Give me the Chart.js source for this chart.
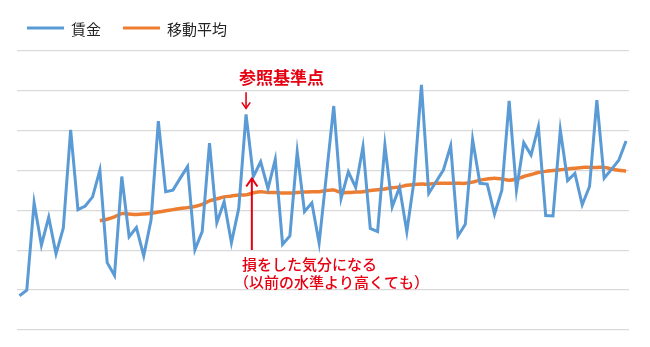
<!DOCTYPE html>
<html>
<head>
<meta charset="utf-8">
<script src="https://cdn.jsdelivr.net/npm/chart.js@4"></script>
<style>
  html, body { margin: 0; padding: 0; background: #fff; }
  canvas { display: block; }
</style>
</head>
<body>
<canvas id="wageChart" width="650" height="347"></canvas>
<script>
// wage series (84 periods)
const wages = [
  0.86, 1.00, 3.19, 2.13, 2.83, 1.91, 2.56, 5.02, 3.02, 3.11,
  3.34, 4.01, 1.69, 1.37, 3.85, 2.34, 2.57, 1.86, 2.76, 5.24,
  3.47, 3.51, 3.81, 4.10, 2.01, 2.47, 4.69, 2.69, 3.22, 2.19,
  3.05, 5.41, 3.85, 4.22, 3.55, 4.28, 2.15, 2.36, 4.47, 2.97,
  3.19, 2.18, 3.89, 5.62, 3.30, 3.97, 3.58, 4.60, 2.55, 2.47,
  4.64, 3.09, 3.58, 2.47, 3.76, 6.15, 3.43, 3.72, 4.01, 4.62,
  2.36, 2.65, 4.78, 3.68, 3.66, 2.91, 3.51, 5.75, 3.51, 4.70,
  4.39, 5.10, 2.87, 2.86, 5.02, 3.75, 3.93, 3.14, 3.60, 5.77,
  3.81, 4.03, 4.26, 4.74
];

// moving average, starts at the 12th period
const movingAvg = [
  null, null, null, null, null, null, null, null, null, null, null,
  2.74, 2.78, 2.84, 2.92, 2.91, 2.90, 2.91, 2.93, 2.96, 2.99,
  3.02, 3.05, 3.07, 3.10, 3.15, 3.24, 3.29, 3.34, 3.36, 3.39,
  3.39, 3.44, 3.47, 3.45, 3.45, 3.44, 3.44, 3.45, 3.46, 3.47,
  3.47, 3.50, 3.51, 3.45, 3.45, 3.46, 3.47, 3.50, 3.52, 3.54,
  3.57, 3.59, 3.63, 3.65, 3.66, 3.66, 3.68, 3.68, 3.68, 3.68,
  3.68, 3.71, 3.76, 3.79, 3.81, 3.79, 3.76, 3.79, 3.85, 3.90,
  3.95, 3.98, 4.00, 4.02, 4.04, 4.06, 4.08, 4.08, 4.08, 4.08,
  4.04, 4.01, 3.99
];

const seriesNames = ["賃金", "移動平均"];
const seriesColors = ["#5b9bd5", "#ed7d31"];

const refIndex = 31;   // 参照基準点
const lossIndex = 32;  // 損をした気分になる

const FONT = '"Noto Sans CJK JP", "Noto Sans", sans-serif';
const RED = "#e60012";

const toPoints = arr => arr.map((v, i) => ({ x: i, y: v }));

// legend drawn by hand so the line swatches sit where they do in the original
const lineLegend = {
  id: "lineLegend",
  afterDraw(chart) {
    const ctx = chart.ctx;
    const items = [{ x: 27 }, { x: 123 }];
    ctx.save();
    ctx.font = "15px " + FONT;
    ctx.textBaseline = "middle";
    chart.data.datasets.forEach((ds, i) => {
      const x = items[i].x;
      ctx.strokeStyle = ds.borderColor;
      ctx.lineWidth = 3;
      ctx.beginPath();
      ctx.moveTo(x, 28);
      ctx.lineTo(x + 37, 28);
      ctx.stroke();
      ctx.fillStyle = "#222";
      ctx.fillText(ds.label, x + 44, 29);
    });
    ctx.restore();
  }
};

function arrow(ctx, x, y1, y2, head) {
  ctx.beginPath();
  ctx.moveTo(x, y1);
  ctx.lineTo(x, y2);
  ctx.stroke();
  const dir = y2 > y1 ? 1 : -1;
  ctx.beginPath();
  ctx.moveTo(x - head * 0.7, y2 - dir * head);
  ctx.lineTo(x, y2);
  ctx.lineTo(x + head * 0.7, y2 - dir * head);
  ctx.stroke();
}

const notes = {
  id: "notes",
  afterDraw(chart) {
    const ctx = chart.ctx;
    const xs = chart.scales.x, ys = chart.scales.y;
    ctx.save();
    ctx.strokeStyle = RED;
    ctx.fillStyle = RED;
    ctx.lineWidth = 1.6;

    // reference point
    const rx = xs.getPixelForValue(refIndex);
    const ry = ys.getPixelForValue(wages[refIndex]);
    arrow(ctx, rx, ry - 22, ry - 6, 6);
    ctx.font = "bold 17px " + FONT;
    ctx.textBaseline = "middle";
    ctx.fillText("参照基準点", rx - 7, ry - 37);

    // loss feeling
    const lx = xs.getPixelForValue(lossIndex) - 1.5;
    const ly = ys.getPixelForValue(wages[lossIndex]);
    ctx.lineWidth = 2;
    arrow(ctx, lx, 250, ly + 2, 8);
    ctx.font = "500 15px " + FONT;
    ctx.fillText("損をした気分になる", 242, 264);
    ctx.fillText("（以前の水準より高くても）", 234, 282);
    ctx.restore();
  }
};

new Chart(document.getElementById("wageChart"), {
  type: "line",
  data: {
    datasets: [
      {
        label: seriesNames[0],
        data: toPoints(wages),
        borderColor: seriesColors[0],
        backgroundColor: seriesColors[0],
        borderWidth: 3,
        pointRadius: 0,
        tension: 0
      },
      {
        label: seriesNames[1],
        data: toPoints(movingAvg),
        borderColor: seriesColors[1],
        backgroundColor: seriesColors[1],
        borderWidth: 3.5,
        pointRadius: 0,
        tension: 0.3
      }
    ]
  },
  options: {
    responsive: false,
    animation: false,
    devicePixelRatio: 1,
    layout: { padding: { top: 51, bottom: 17, left: 17, right: 21 } },
    plugins: {
      legend: { display: false },
      tooltip: { enabled: false }
    },
    scales: {
      x: {
        type: "linear",
        min: -0.34,
        max: 83.4,
        display: false
      },
      y: {
        min: 0,
        max: 7,
        ticks: { display: false, stepSize: 1 },
        border: { display: false },
        grid: { color: "#d9d9d9", lineWidth: 1.3, drawTicks: false }
      }
    }
  },
  plugins: [lineLegend, notes]
});
</script>
</body>
</html>
